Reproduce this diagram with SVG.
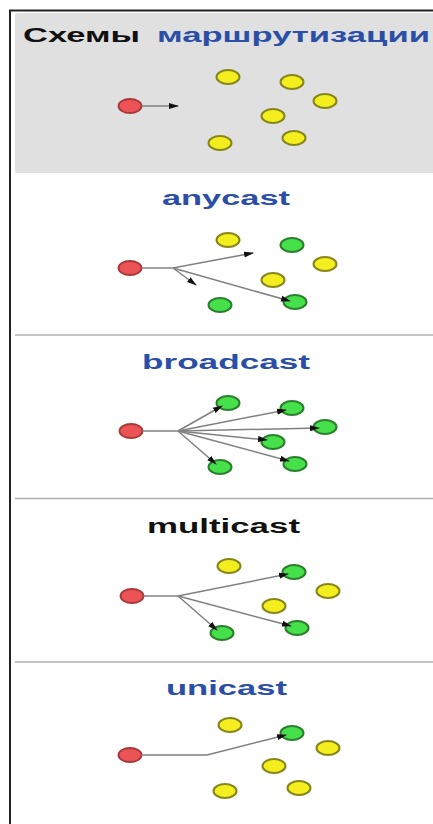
<svg xmlns="http://www.w3.org/2000/svg" width="433" height="824" viewBox="0 0 433 824">
<style>
.t{font-family:"Liberation Sans",Arial,sans-serif;font-weight:bold;font-size:20px}
.blue{fill:#2b4ea6}
.black{fill:#111}
.y{fill:#f4ee1e;stroke:#85851c;stroke-width:2}
.g{fill:#46e04a;stroke:#2a7f2c;stroke-width:2}
.r{fill:#ec5356;stroke:#a83838;stroke-width:1.8}
.c{fill:none;stroke:#808080;stroke-width:1.5}
.sep{stroke:#b0b0b0;stroke-width:1.5}
</style>
<defs>
<marker id="ah" markerWidth="10" markerHeight="7" refX="9" refY="3.5" orient="auto" markerUnits="userSpaceOnUse">
<path d="M0,0.5 L10,3.5 L0,6.5 Z" fill="#111"/>
</marker>
</defs>
<rect width="433" height="824" fill="#fff"/>
<path d="M10,824 V10.5 H433" fill="none" stroke="#222" stroke-width="2"/>
<rect x="15" y="13" width="420" height="160" rx="2" fill="#e0e0e0"/>
<line class="sep" x1="15" y1="335" x2="433" y2="335"/>
<line class="sep" x1="15" y1="498.5" x2="433" y2="498.5"/>
<line class="sep" x1="15" y1="662" x2="433" y2="662"/>

<g id="titles">
<text class="t black" x="23" y="42" font-size="18" textLength="117" lengthAdjust="spacingAndGlyphs">Схемы</text>
<text class="t blue" x="157" y="42" font-size="18" textLength="273" lengthAdjust="spacingAndGlyphs">маршрутизации</text>
<text class="t blue" x="162" y="205" textLength="128" lengthAdjust="spacingAndGlyphs">anycast</text>
<text class="t blue" x="142" y="369" textLength="168" lengthAdjust="spacingAndGlyphs">broadcast</text>
<text class="t black" x="147" y="533" textLength="153" lengthAdjust="spacingAndGlyphs">multicast</text>
<text class="t blue" x="166" y="695" textLength="121" lengthAdjust="spacingAndGlyphs">unicast</text>
</g>

<!-- header panel -->
<g id="h-src"><ellipse class="r" cx="130" cy="106" rx="11.5" ry="7"/></g>
<g id="h-n1"><ellipse class="y" cx="228" cy="77" rx="11.5" ry="7"/></g>
<g id="h-n2"><ellipse class="y" cx="292" cy="82" rx="11.5" ry="7"/></g>
<g id="h-n3"><ellipse class="y" cx="325" cy="101" rx="11.5" ry="7"/></g>
<g id="h-n4"><ellipse class="y" cx="273" cy="116" rx="11.5" ry="7"/></g>
<g id="h-n5"><ellipse class="y" cx="220" cy="143" rx="11.5" ry="7"/></g>
<g id="h-n6"><ellipse class="y" cx="294" cy="138" rx="11.5" ry="7"/></g>

<!-- anycast -->
<g id="a-src"><ellipse class="r" cx="130" cy="268" rx="11.5" ry="7"/></g>
<g id="a-n1"><ellipse class="y" cx="228" cy="240" rx="11.5" ry="7"/></g>
<g id="a-n2"><ellipse class="g" cx="292" cy="245" rx="11.5" ry="7"/></g>
<g id="a-n3"><ellipse class="y" cx="325" cy="264" rx="11.5" ry="7"/></g>
<g id="a-n4"><ellipse class="y" cx="273" cy="280" rx="11.5" ry="7"/></g>
<g id="a-n5"><ellipse class="g" cx="220" cy="305" rx="11.5" ry="7"/></g>
<g id="a-n6"><ellipse class="g" cx="295" cy="302" rx="11.5" ry="7"/></g>

<!-- broadcast -->
<g id="b-src"><ellipse class="r" cx="131" cy="431" rx="11.5" ry="7"/></g>
<g id="b-n1"><ellipse class="g" cx="228" cy="403" rx="11.5" ry="7"/></g>
<g id="b-n2"><ellipse class="g" cx="292" cy="408" rx="11.5" ry="7"/></g>
<g id="b-n3"><ellipse class="g" cx="325" cy="427" rx="11.5" ry="7"/></g>
<g id="b-n4"><ellipse class="g" cx="273" cy="442" rx="11.5" ry="7"/></g>
<g id="b-n5"><ellipse class="g" cx="220" cy="467" rx="11.5" ry="7"/></g>
<g id="b-n6"><ellipse class="g" cx="295" cy="464" rx="11.5" ry="7"/></g>

<!-- multicast -->
<g id="m-src"><ellipse class="r" cx="132" cy="596" rx="11.5" ry="7"/></g>
<g id="m-n1"><ellipse class="y" cx="229" cy="566" rx="11.5" ry="7"/></g>
<g id="m-n2"><ellipse class="g" cx="294" cy="572" rx="11.5" ry="7"/></g>
<g id="m-n3"><ellipse class="y" cx="328" cy="591" rx="11.5" ry="7"/></g>
<g id="m-n4"><ellipse class="y" cx="274" cy="606" rx="11.5" ry="7"/></g>
<g id="m-n5"><ellipse class="g" cx="222" cy="633" rx="11.5" ry="7"/></g>
<g id="m-n6"><ellipse class="g" cx="297" cy="628" rx="11.5" ry="7"/></g>

<!-- unicast -->
<g id="u-src"><ellipse class="r" cx="130" cy="755" rx="11.5" ry="7"/></g>
<g id="u-n1"><ellipse class="y" cx="230" cy="725" rx="11.5" ry="7"/></g>
<g id="u-n2"><ellipse class="g" cx="292" cy="733" rx="11.5" ry="7"/></g>
<g id="u-n3"><ellipse class="y" cx="328" cy="748" rx="11.5" ry="7"/></g>
<g id="u-n4"><ellipse class="y" cx="274" cy="766" rx="11.5" ry="7"/></g>
<g id="u-n5"><ellipse class="y" cx="225" cy="791" rx="11.5" ry="7"/></g>
<g id="u-n6"><ellipse class="y" cx="299" cy="788" rx="11.5" ry="7"/></g>

<g id="connectors">
<line class="c" x1="141.5" y1="106" x2="178" y2="106" marker-end="url(#ah)"/>

<line class="c" x1="141.5" y1="268" x2="173" y2="268"/>
<line class="c" x1="173" y1="268" x2="253" y2="253" marker-end="url(#ah)"/>
<line class="c" x1="173" y1="268" x2="196" y2="285" marker-end="url(#ah)"/>
<line class="c" x1="173" y1="268" x2="290" y2="301" marker-end="url(#ah)"/>

<line class="c" x1="142.5" y1="431" x2="178" y2="431"/>
<line class="c" x1="178" y1="431" x2="222" y2="406" marker-end="url(#ah)"/>
<line class="c" x1="178" y1="431" x2="286" y2="410" marker-end="url(#ah)"/>
<line class="c" x1="178" y1="431" x2="319" y2="428" marker-end="url(#ah)"/>
<line class="c" x1="178" y1="431" x2="267" y2="440" marker-end="url(#ah)"/>
<line class="c" x1="178" y1="431" x2="216" y2="464" marker-end="url(#ah)"/>
<line class="c" x1="178" y1="431" x2="289" y2="461" marker-end="url(#ah)"/>

<line class="c" x1="143.5" y1="596" x2="178" y2="596"/>
<line class="c" x1="178" y1="596" x2="288" y2="574" marker-end="url(#ah)"/>
<line class="c" x1="178" y1="596" x2="217" y2="630" marker-end="url(#ah)"/>
<line class="c" x1="178" y1="596" x2="291" y2="626" marker-end="url(#ah)"/>

<polyline class="c" points="141.5,755 207,755 286,735" marker-end="url(#ah)"/>
</g>
</svg>
